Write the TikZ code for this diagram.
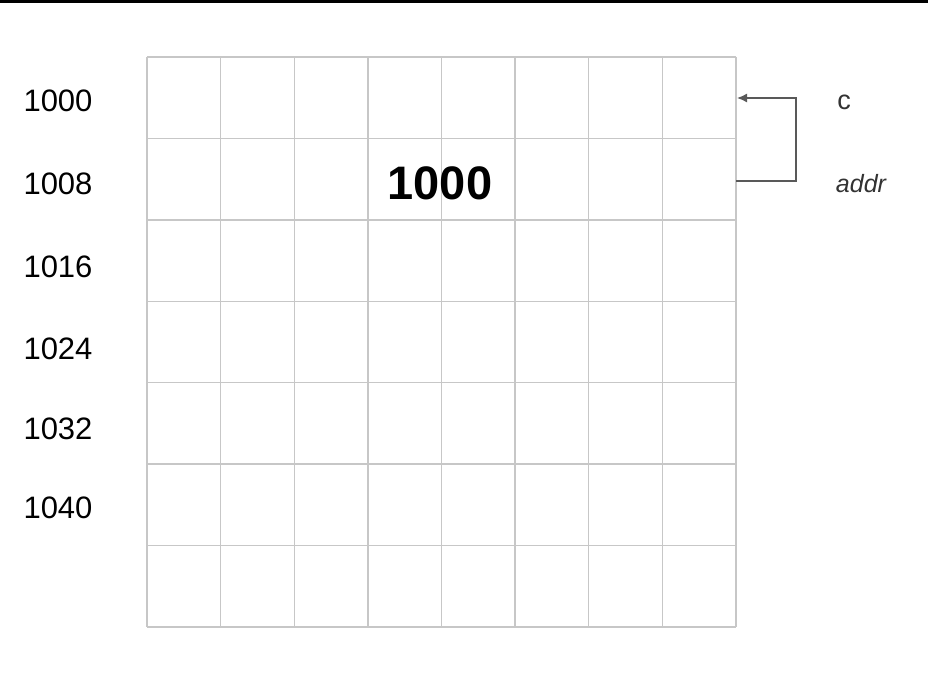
\documentclass[tikz,border=0pt]{standalone}
\usepackage{fontspec}
\setmainfont{Liberation Sans}
\usetikzlibrary{arrows.meta}
\begin{document}
\begin{tikzpicture}[x=1pt,y=-1pt,
  gridline/.style={draw=black!22,line width=1.4pt},
  rowlabel/.style={font=\fontsize{31}{31}\selectfont,text=black,inner sep=0pt},
  sidelabel/.style={font=\fontsize{25}{25}\selectfont\itshape,text=black!80,inner sep=0pt},
  pointer/.style={draw=black!65,line width=1.5pt,-{Latex[length=10pt,width=9pt]}}]
\useasboundingbox (0,0) rectangle (928,679);
\fill[white] (0,0) rectangle (928,679);
\fill[black] (0,0) rectangle (928,3.5);
% grid
\foreach \i in {0,...,8} {
  \draw[gridline] ({147+\i*73.625},57) -- ({147+\i*73.625},627);
}
\foreach \j in {0,...,7} {
  \draw[gridline] (147,{57+\j*81.43}) -- (736,{57+\j*81.43});
}
% row labels
\node[rowlabel] (r0) at (58,101) {1000};
\node[rowlabel] (r1) at (58,184) {1008};
\node[rowlabel] (r2) at (58,267) {1016};
\node[rowlabel] (r3) at (58,349) {1024};
\node[rowlabel] (r4) at (58,429) {1032};
\node[rowlabel] (r5) at (58,508) {1040};
% central value
\node[font=\fontsize{47}{47}\selectfont\bfseries,inner sep=0pt] (val) at (440,183) {1000};
% pointer
\coordinate (from) at (736,181);
\coordinate (to) at (737,98);
\draw[pointer] (from) -- (796,181) -- (796,98) -- (to);
\node[sidelabel,font=\fontsize{27}{27}\selectfont] (c) at (844,102) {c};
\node[sidelabel] (addr) at (861,184) {addr};
\end{tikzpicture}
\end{document}
